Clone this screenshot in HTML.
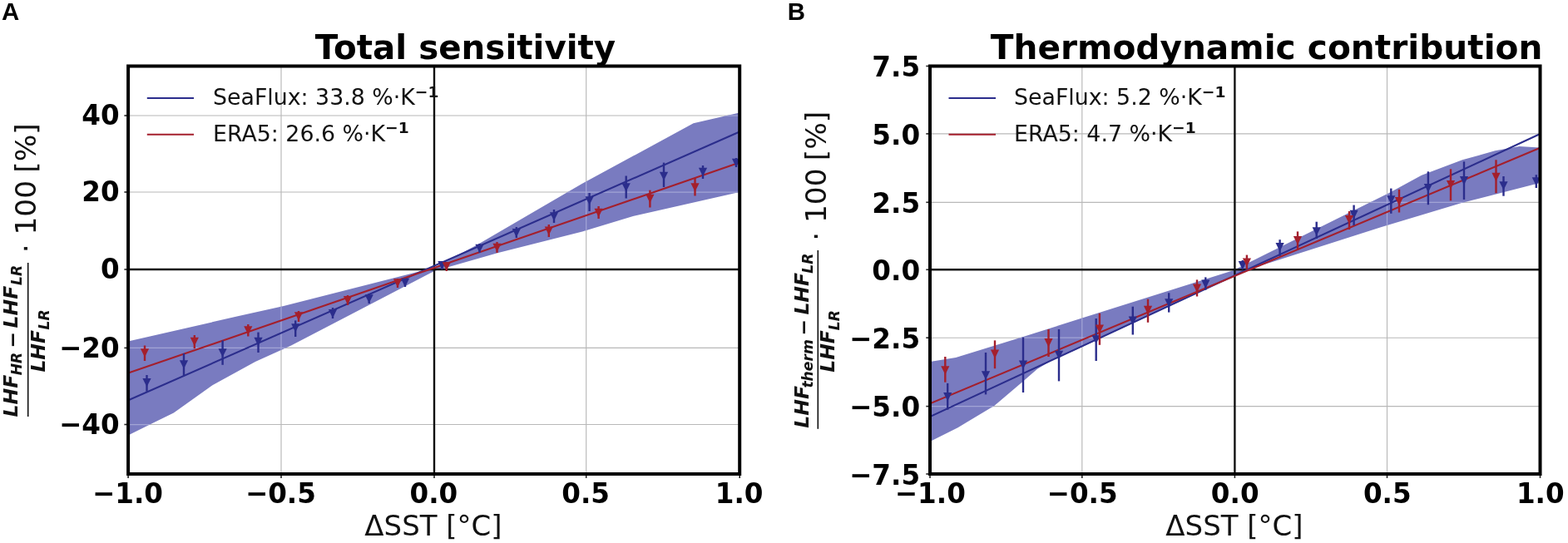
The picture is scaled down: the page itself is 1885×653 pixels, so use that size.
<!DOCTYPE html>
<html lang="en"><head><meta charset="utf-8"><title>LHF sensitivity to SST</title>
<style>
html,body{margin:0;padding:0;background:#fff;}
body{width:1885px;height:653px;overflow:hidden;}
svg{display:block;}
text{font-family:"DejaVu Sans","Liberation Sans",sans-serif;fill:#000;}
.tk{font-size:32.6px;font-weight:bold;}
.ti{font-size:40.4px;font-weight:bold;}
.tib{font-size:40.65px;font-weight:bold;}
.lg{font-size:26.8px;fill:#111;}
.lg .sup{font-size:18.7px;font-weight:bold;}
.xl{font-size:34px;fill:#111;}
.yl{font-size:33px;fill:#111;}
.fr{font-size:23.5px;font-weight:bold;font-style:italic;fill:#111;}
.fr.sb{font-size:17.2px;}
.pl{font-family:"Liberation Sans",sans-serif;font-size:29.4px;font-weight:bold;}
</style></head>
<body>
<svg width="1885" height="653" viewBox="0 0 1885 653">
<rect width="1885" height="653" fill="#fff"/>
<g>
<clipPath id="ca"><rect x="154.1" y="79.5" width="735.1" height="490.5"/></clipPath>
<g clip-path="url(#ca)">
<g stroke="#b8b8b8" stroke-width="1.15"><line x1="338" y1="79.5" x2="338" y2="570"/><line x1="704.7" y1="79.5" x2="704.7" y2="570"/><line x1="154.1" y1="139" x2="889.2" y2="139"/><line x1="154.1" y1="231" x2="889.2" y2="231"/><line x1="154.1" y1="418.4" x2="889.2" y2="418.4"/><line x1="154.1" y1="510.5" x2="889.2" y2="510.5"/></g>
<polygon points="154,410.6 287,380 340,368.2 522,322 573.5,294.4 700,220.8 833.6,148.3 889,135.5 889,231 761,260 700,278.4 598,304.2 522,326 350,415.5 306.9,435 255.4,463.3 208.8,496.4 154,523.4" fill="#797bc0"/>
<clipPath id="fa"><polygon points="154,410.6 287,380 340,368.2 522,322 573.5,294.4 700,220.8 833.6,148.3 889,135.5 889,231 761,260 700,278.4 598,304.2 522,326 350,415.5 306.9,435 255.4,463.3 208.8,496.4 154,523.4"/></clipPath>
<g clip-path="url(#fa)" stroke="#a2a4d5" stroke-width="1.25"><line x1="338" y1="79.5" x2="338" y2="570"/><line x1="704.7" y1="79.5" x2="704.7" y2="570"/><line x1="154.1" y1="139" x2="889.2" y2="139"/><line x1="154.1" y1="231" x2="889.2" y2="231"/><line x1="154.1" y1="418.4" x2="889.2" y2="418.4"/><line x1="154.1" y1="510.5" x2="889.2" y2="510.5"/></g>
<line x1="522" y1="79.5" x2="522" y2="570" stroke="#111" stroke-width="2.4"/>
<line x1="154.1" y1="324" x2="889.2" y2="324" stroke="#111" stroke-width="2.4"/>
<line x1="154.3" y1="481.2" x2="889" y2="158.5" stroke="#2b2d8c" stroke-width="2.1"/>
<line x1="154.3" y1="448.6" x2="889" y2="195.6" stroke="#a41f2c" stroke-width="2.1"/>
</g>
<line x1="176.5" y1="451" x2="176.5" y2="470.7" stroke="#2b2d8c" stroke-width="2.4"/><polygon points="171.4,454.9 181.6,454.9 176.5,465.3" fill="#2b2d8c"/>
<line x1="221" y1="425" x2="221" y2="452" stroke="#2b2d8c" stroke-width="2.4"/><polygon points="215.9,433.2 226.1,433.2 221,443.6" fill="#2b2d8c"/>
<line x1="267.6" y1="409.4" x2="267.6" y2="438.8" stroke="#2b2d8c" stroke-width="2.4"/><polygon points="262.5,419.2 272.7,419.2 267.6,429.6" fill="#2b2d8c"/>
<line x1="310.5" y1="399.6" x2="310.5" y2="424" stroke="#2b2d8c" stroke-width="2.4"/><polygon points="305.4,405.8 315.6,405.8 310.5,416.2" fill="#2b2d8c"/>
<line x1="355.2" y1="385.4" x2="355.2" y2="405" stroke="#2b2d8c" stroke-width="2.4"/><polygon points="350.1,389.2 360.3,389.2 355.2,399.6" fill="#2b2d8c"/>
<line x1="400" y1="370" x2="400" y2="383" stroke="#2b2d8c" stroke-width="2.4"/><polygon points="394.9,372 405.1,372 400,382.4" fill="#2b2d8c"/>
<line x1="443.7" y1="353" x2="443.7" y2="365" stroke="#2b2d8c" stroke-width="2.4"/><polygon points="438.6,354.2 448.8,354.2 443.7,364.6" fill="#2b2d8c"/>
<line x1="487" y1="335" x2="487" y2="345" stroke="#2b2d8c" stroke-width="2.4"/><polygon points="481.9,334.8 492.1,334.8 487,345.2" fill="#2b2d8c"/>
<line x1="531.4" y1="314" x2="531.4" y2="324" stroke="#2b2d8c" stroke-width="2.4"/><polygon points="526.3,314.1 536.5,314.1 531.4,324.5" fill="#2b2d8c"/>
<line x1="576.5" y1="293" x2="576.5" y2="304" stroke="#2b2d8c" stroke-width="2.4"/><polygon points="571.4,293.7 581.6,293.7 576.5,304.1" fill="#2b2d8c"/>
<line x1="620.8" y1="273" x2="620.8" y2="286" stroke="#2b2d8c" stroke-width="2.4"/><polygon points="615.7,274.9 625.9,274.9 620.8,285.3" fill="#2b2d8c"/>
<line x1="666" y1="252" x2="666" y2="268" stroke="#2b2d8c" stroke-width="2.4"/><polygon points="660.9,255.2 671.1,255.2 666,265.6" fill="#2b2d8c"/>
<line x1="708.6" y1="232" x2="708.6" y2="254" stroke="#2b2d8c" stroke-width="2.4"/><polygon points="703.5,236.2 713.7,236.2 708.6,246.6" fill="#2b2d8c"/>
<line x1="752.7" y1="211.5" x2="752.7" y2="238.5" stroke="#2b2d8c" stroke-width="2.4"/><polygon points="747.6,220.2 757.8,220.2 752.7,230.6" fill="#2b2d8c"/>
<line x1="798" y1="195.6" x2="798" y2="225" stroke="#2b2d8c" stroke-width="2.4"/><polygon points="792.9,206.7 803.1,206.7 798,217.1" fill="#2b2d8c"/>
<line x1="845" y1="199" x2="845" y2="215" stroke="#2b2d8c" stroke-width="2.4"/><polygon points="839.9,201.8 850.1,201.8 845,212.2" fill="#2b2d8c"/>
<line x1="885" y1="190" x2="885" y2="201" stroke="#2b2d8c" stroke-width="2.4"/><polygon points="879.9,190.8 890.1,190.8 885,201.2" fill="#2b2d8c"/>
<line x1="174" y1="415.5" x2="174" y2="434" stroke="#a41f2c" stroke-width="2.4"/><polygon points="168.9,419.2 179.1,419.2 174,429.6" fill="#a41f2c"/>
<line x1="233.8" y1="403" x2="233.8" y2="419" stroke="#a41f2c" stroke-width="2.4"/><polygon points="228.7,405.8 238.9,405.8 233.8,416.2" fill="#a41f2c"/>
<line x1="298.3" y1="390" x2="298.3" y2="404.5" stroke="#a41f2c" stroke-width="2.4"/><polygon points="293.2,392.2 303.4,392.2 298.3,402.6" fill="#a41f2c"/>
<line x1="359" y1="374" x2="359" y2="387" stroke="#a41f2c" stroke-width="2.4"/><polygon points="353.9,375.2 364.1,375.2 359,385.6" fill="#a41f2c"/>
<line x1="418" y1="355" x2="418" y2="367" stroke="#a41f2c" stroke-width="2.4"/><polygon points="412.9,356.1 423.1,356.1 418,366.5" fill="#a41f2c"/>
<line x1="478" y1="335" x2="478" y2="346" stroke="#a41f2c" stroke-width="2.4"/><polygon points="472.9,335.2 483.1,335.2 478,345.6" fill="#a41f2c"/>
<line x1="536.8" y1="315" x2="536.8" y2="326" stroke="#a41f2c" stroke-width="2.4"/><polygon points="531.7,315.2 541.9,315.2 536.8,325.6" fill="#a41f2c"/>
<line x1="597.5" y1="291" x2="597.5" y2="304" stroke="#a41f2c" stroke-width="2.4"/><polygon points="592.4,292.7 602.6,292.7 597.5,303.1" fill="#a41f2c"/>
<line x1="659.8" y1="270" x2="659.8" y2="285" stroke="#a41f2c" stroke-width="2.4"/><polygon points="654.7,272.4 664.9,272.4 659.8,282.8" fill="#a41f2c"/>
<line x1="719.6" y1="248" x2="719.6" y2="263" stroke="#a41f2c" stroke-width="2.4"/><polygon points="714.5,250.8 724.7,250.8 719.6,261.2" fill="#a41f2c"/>
<line x1="781.4" y1="228.7" x2="781.4" y2="249.5" stroke="#a41f2c" stroke-width="2.4"/><polygon points="776.3,233.7 786.5,233.7 781.4,244.1" fill="#a41f2c"/>
<line x1="835.5" y1="214" x2="835.5" y2="235.5" stroke="#a41f2c" stroke-width="2.4"/><polygon points="830.4,220.2 840.6,220.2 835.5,230.6" fill="#a41f2c"/>
<line x1="154.1" y1="570" x2="154.1" y2="574.9" stroke="#222" stroke-width="1.6"/>
<line x1="338" y1="570" x2="338" y2="574.9" stroke="#222" stroke-width="1.6"/>
<line x1="522" y1="570" x2="522" y2="574.9" stroke="#222" stroke-width="1.6"/>
<line x1="704.7" y1="570" x2="704.7" y2="574.9" stroke="#222" stroke-width="1.6"/>
<line x1="889.2" y1="570" x2="889.2" y2="574.9" stroke="#222" stroke-width="1.6"/>
<line x1="149.4" y1="139" x2="154.1" y2="139" stroke="#222" stroke-width="1.6"/>
<line x1="149.4" y1="231" x2="154.1" y2="231" stroke="#222" stroke-width="1.6"/>
<line x1="149.4" y1="324" x2="154.1" y2="324" stroke="#222" stroke-width="1.6"/>
<line x1="149.4" y1="418.4" x2="154.1" y2="418.4" stroke="#222" stroke-width="1.6"/>
<line x1="149.4" y1="510.5" x2="154.1" y2="510.5" stroke="#222" stroke-width="1.6"/>
<rect x="154.1" y="79.5" width="735.1" height="490.5" fill="none" stroke="#000" stroke-width="4"/>
<line x1="176.8" y1="118" x2="233" y2="118" stroke="#2b2d8c" stroke-width="2.1"/>
<line x1="176.8" y1="161.8" x2="233" y2="161.8" stroke="#a41f2c" stroke-width="2.1"/>
<text class="lg" transform="translate(256,126.3) scale(1,0.98)">SeaFlux: 33.8 %·K<tspan class="sup" dy="-10">−1</tspan></text>
<text class="lg" transform="translate(256,170) scale(1,0.98)">ERA5: 26.6 %·K<tspan class="sup" dy="-10">−1</tspan></text>
<text class="ti" transform="translate(559.5,70.5) scale(1,1.025)" text-anchor="middle">Total sensitivity</text>
<text class="tk" transform="translate(153.5,604.6) scale(1,1.04)" text-anchor="middle">−1.0</text>
<text class="tk" transform="translate(337.4,604.6) scale(1,1.04)" text-anchor="middle">−0.5</text>
<text class="tk" transform="translate(521.4,604.6) scale(1,1.04)" text-anchor="middle">0.0</text>
<text class="tk" transform="translate(704.1,604.6) scale(1,1.04)" text-anchor="middle">0.5</text>
<text class="tk" transform="translate(888.6,604.6) scale(1,1.04)" text-anchor="middle">1.0</text>
<text class="tk" transform="translate(143.6,150.2) scale(1,1.04)" text-anchor="end">40</text>
<text class="tk" transform="translate(143.6,242.2) scale(1,1.04)" text-anchor="end">20</text>
<text class="tk" transform="translate(143.6,335.2) scale(1,1.04)" text-anchor="end">0</text>
<text class="tk" transform="translate(143.6,429.6) scale(1,1.04)" text-anchor="end">−20</text>
<text class="tk" transform="translate(143.6,521.7) scale(1,1.04)" text-anchor="end">−40</text>
<text class="xl" x="521" y="643.8" text-anchor="middle">ΔSST [°C]</text>
<rect x="32.900000000000006" y="316" width="1.6" height="185" fill="#111"/>
<text class="fr m" transform="translate(21.3,501.4) rotate(-90)">LHF</text>
<text class="fr sb" transform="translate(25.7,451.3) rotate(-90)">HR</text>
<text class="fr m" transform="translate(23.3,418.6) rotate(-90)">−</text>
<text class="fr m" transform="translate(21.3,394.4) rotate(-90)">LHF</text>
<text class="fr sb" transform="translate(25.7,343) rotate(-90)">LR</text>
<text class="fr m" transform="translate(54.1,447.6) rotate(-90)">LHF</text>
<text class="fr sb" transform="translate(58.5,396.5) rotate(-90)">LR</text>
<text class="yl" transform="translate(42.8,304.3) scale(1,1.04) rotate(-90)">· 100 <tspan dx="-1.5">[%]</tspan></text>
<text class="pl" transform="translate(2.0,23.9) scale(1,1.02)">A</text>
</g>
<g>
<clipPath id="cb"><rect x="1118" y="79.5" width="733.5" height="490.5"/></clipPath>
<g clip-path="url(#cb)">
<g stroke="#b8b8b8" stroke-width="1.15"><line x1="1300.8" y1="79.5" x2="1300.8" y2="570"/><line x1="1667.5" y1="79.5" x2="1667.5" y2="570"/><line x1="1118" y1="160.9" x2="1851.5" y2="160.9"/><line x1="1118" y1="243.3" x2="1851.5" y2="243.3"/><line x1="1118" y1="406.2" x2="1851.5" y2="406.2"/><line x1="1118" y1="488.6" x2="1851.5" y2="488.6"/></g>
<polygon points="1118,435 1149,430 1230,405 1300,382.8 1482.4,325.3 1670,231.9 1709,210.7 1758,192.3 1797.3,181.3 1826.7,175.9 1851,177.6 1851,220 1758,243.8 1660,273.2 1501.9,323.8 1484,330.6 1390,375.2 1290,422.2 1271.6,429 1247,443.7 1230,458.4 1195.6,487.8 1151.5,514.2 1118,531" fill="#797bc0"/>
<clipPath id="fb"><polygon points="1118,435 1149,430 1230,405 1300,382.8 1482.4,325.3 1670,231.9 1709,210.7 1758,192.3 1797.3,181.3 1826.7,175.9 1851,177.6 1851,220 1758,243.8 1660,273.2 1501.9,323.8 1484,330.6 1390,375.2 1290,422.2 1271.6,429 1247,443.7 1230,458.4 1195.6,487.8 1151.5,514.2 1118,531"/></clipPath>
<g clip-path="url(#fb)" stroke="#a2a4d5" stroke-width="1.25"><line x1="1300.8" y1="79.5" x2="1300.8" y2="570"/><line x1="1667.5" y1="79.5" x2="1667.5" y2="570"/><line x1="1118" y1="160.9" x2="1851.5" y2="160.9"/><line x1="1118" y1="243.3" x2="1851.5" y2="243.3"/><line x1="1118" y1="406.2" x2="1851.5" y2="406.2"/><line x1="1118" y1="488.6" x2="1851.5" y2="488.6"/></g>
<line x1="1484.4" y1="79.5" x2="1484.4" y2="570" stroke="#111" stroke-width="2.4"/>
<line x1="1118" y1="324.3" x2="1851.5" y2="324.3" stroke="#111" stroke-width="2.4"/>
<line x1="1118" y1="501.1" x2="1851.5" y2="161" stroke="#2b2d8c" stroke-width="2.1"/>
<line x1="1118" y1="485.4" x2="1851.5" y2="177.8" stroke="#a41f2c" stroke-width="2.1"/>
</g>
<line x1="1139.2" y1="460.9" x2="1139.2" y2="492.7" stroke="#2b2d8c" stroke-width="2.4"/><polygon points="1134.1,472 1144.3,472 1139.2,482.4" fill="#2b2d8c"/>
<line x1="1185" y1="424" x2="1185" y2="474.4" stroke="#2b2d8c" stroke-width="2.4"/><polygon points="1179.9,446.2 1190.1,446.2 1185,456.6" fill="#2b2d8c"/>
<line x1="1230" y1="405.7" x2="1230" y2="472" stroke="#2b2d8c" stroke-width="2.4"/><polygon points="1224.9,433.5 1235.1,433.5 1230,443.9" fill="#2b2d8c"/>
<line x1="1273" y1="396" x2="1273" y2="458.4" stroke="#2b2d8c" stroke-width="2.4"/><polygon points="1267.9,421.8 1278.1,421.8 1273,432.2" fill="#2b2d8c"/>
<line x1="1317.7" y1="383" x2="1317.7" y2="434" stroke="#2b2d8c" stroke-width="2.4"/><polygon points="1312.6,403.2 1322.8,403.2 1317.7,413.6" fill="#2b2d8c"/>
<line x1="1361.8" y1="368.7" x2="1361.8" y2="402.5" stroke="#2b2d8c" stroke-width="2.4"/><polygon points="1356.7,380.6 1366.9,380.6 1361.8,391" fill="#2b2d8c"/>
<line x1="1405.2" y1="352.3" x2="1405.2" y2="375.6" stroke="#2b2d8c" stroke-width="2.4"/><polygon points="1400.1,359.2 1410.3,359.2 1405.2,369.6" fill="#2b2d8c"/>
<line x1="1449.3" y1="333.4" x2="1449.3" y2="348.6" stroke="#2b2d8c" stroke-width="2.4"/><polygon points="1444.2,336.5 1454.4,336.5 1449.3,346.9" fill="#2b2d8c"/>
<line x1="1493.8" y1="313" x2="1493.8" y2="324" stroke="#2b2d8c" stroke-width="2.4"/><polygon points="1488.7,314.1 1498.9,314.1 1493.8,324.5" fill="#2b2d8c"/>
<line x1="1538.6" y1="288.2" x2="1538.6" y2="307.8" stroke="#2b2d8c" stroke-width="2.4"/><polygon points="1533.5,292 1543.7,292 1538.6,302.4" fill="#2b2d8c"/>
<line x1="1582.7" y1="266.7" x2="1582.7" y2="287" stroke="#2b2d8c" stroke-width="2.4"/><polygon points="1577.6,273.2 1587.8,273.2 1582.7,283.6" fill="#2b2d8c"/>
<line x1="1627.6" y1="246.6" x2="1627.6" y2="271" stroke="#2b2d8c" stroke-width="2.4"/><polygon points="1622.5,252.8 1632.7,252.8 1627.6,263.2" fill="#2b2d8c"/>
<line x1="1672.3" y1="226.6" x2="1672.3" y2="256.8" stroke="#2b2d8c" stroke-width="2.4"/><polygon points="1667.2,235.2 1677.4,235.2 1672.3,245.6" fill="#2b2d8c"/>
<line x1="1716.9" y1="206.3" x2="1716.9" y2="246.2" stroke="#2b2d8c" stroke-width="2.4"/><polygon points="1711.8,221.1 1722,221.1 1716.9,231.5" fill="#2b2d8c"/>
<line x1="1760" y1="194.3" x2="1760" y2="240" stroke="#2b2d8c" stroke-width="2.4"/><polygon points="1754.9,212 1765.1,212 1760,222.4" fill="#2b2d8c"/>
<line x1="1807.5" y1="212" x2="1807.5" y2="235.7" stroke="#2b2d8c" stroke-width="2.4"/><polygon points="1802.4,218.2 1812.6,218.2 1807.5,228.6" fill="#2b2d8c"/>
<line x1="1846.8" y1="210.2" x2="1846.8" y2="226" stroke="#2b2d8c" stroke-width="2.4"/><polygon points="1841.7,213.2 1851.9,213.2 1846.8,223.6" fill="#2b2d8c"/>
<line x1="1136.3" y1="429" x2="1136.3" y2="459.7" stroke="#a41f2c" stroke-width="2.4"/><polygon points="1131.2,440.2 1141.4,440.2 1136.3,450.6" fill="#a41f2c"/>
<line x1="1196" y1="409.4" x2="1196" y2="443.2" stroke="#a41f2c" stroke-width="2.4"/><polygon points="1190.9,420.5 1201.1,420.5 1196,430.9" fill="#a41f2c"/>
<line x1="1260.5" y1="396" x2="1260.5" y2="429" stroke="#a41f2c" stroke-width="2.4"/><polygon points="1255.4,407.1 1265.6,407.1 1260.5,417.5" fill="#a41f2c"/>
<line x1="1321.9" y1="376.8" x2="1321.9" y2="414.8" stroke="#a41f2c" stroke-width="2.4"/><polygon points="1316.8,390.4 1327,390.4 1321.9,400.8" fill="#a41f2c"/>
<line x1="1380" y1="359.7" x2="1380" y2="387.8" stroke="#a41f2c" stroke-width="2.4"/><polygon points="1374.9,367.8 1385.1,367.8 1380,378.2" fill="#a41f2c"/>
<line x1="1439" y1="336.4" x2="1439" y2="356.5" stroke="#a41f2c" stroke-width="2.4"/><polygon points="1433.9,341.4 1444.1,341.4 1439,351.8" fill="#a41f2c"/>
<line x1="1498.9" y1="306.6" x2="1498.9" y2="323.8" stroke="#a41f2c" stroke-width="2.4"/><polygon points="1493.8,310.4 1504,310.4 1498.9,320.8" fill="#a41f2c"/>
<line x1="1560" y1="278.4" x2="1560" y2="300.5" stroke="#a41f2c" stroke-width="2.4"/><polygon points="1554.9,283.9 1565.1,283.9 1560,294.3" fill="#a41f2c"/>
<line x1="1622" y1="254" x2="1622" y2="276" stroke="#a41f2c" stroke-width="2.4"/><polygon points="1616.9,258.9 1627.1,258.9 1622,269.3" fill="#a41f2c"/>
<line x1="1682" y1="227.8" x2="1682" y2="255.5" stroke="#a41f2c" stroke-width="2.4"/><polygon points="1676.9,237 1687.1,237 1682,247.4" fill="#a41f2c"/>
<line x1="1744" y1="203.3" x2="1744" y2="241.3" stroke="#a41f2c" stroke-width="2.4"/><polygon points="1738.9,216.9 1749.1,216.9 1744,227.3" fill="#a41f2c"/>
<line x1="1798.5" y1="192.3" x2="1798.5" y2="232.3" stroke="#a41f2c" stroke-width="2.4"/><polygon points="1793.4,207.8 1803.6,207.8 1798.5,218.2" fill="#a41f2c"/>
<line x1="1118" y1="570" x2="1118" y2="574.9" stroke="#222" stroke-width="1.6"/>
<line x1="1300.8" y1="570" x2="1300.8" y2="574.9" stroke="#222" stroke-width="1.6"/>
<line x1="1484.4" y1="570" x2="1484.4" y2="574.9" stroke="#222" stroke-width="1.6"/>
<line x1="1667.5" y1="570" x2="1667.5" y2="574.9" stroke="#222" stroke-width="1.6"/>
<line x1="1851.5" y1="570" x2="1851.5" y2="574.9" stroke="#222" stroke-width="1.6"/>
<line x1="1113.3" y1="79.5" x2="1118" y2="79.5" stroke="#222" stroke-width="1.6"/>
<line x1="1113.3" y1="160.9" x2="1118" y2="160.9" stroke="#222" stroke-width="1.6"/>
<line x1="1113.3" y1="243.3" x2="1118" y2="243.3" stroke="#222" stroke-width="1.6"/>
<line x1="1113.3" y1="324.3" x2="1118" y2="324.3" stroke="#222" stroke-width="1.6"/>
<line x1="1113.3" y1="406.2" x2="1118" y2="406.2" stroke="#222" stroke-width="1.6"/>
<line x1="1113.3" y1="488.6" x2="1118" y2="488.6" stroke="#222" stroke-width="1.6"/>
<line x1="1113.3" y1="570" x2="1118" y2="570" stroke="#222" stroke-width="1.6"/>
<rect x="1118" y="79.5" width="733.5" height="490.5" fill="none" stroke="#000" stroke-width="4"/>
<line x1="1140.5" y1="118" x2="1197" y2="118" stroke="#2b2d8c" stroke-width="2.1"/>
<line x1="1140.5" y1="161.8" x2="1197" y2="161.8" stroke="#a41f2c" stroke-width="2.1"/>
<text class="lg" transform="translate(1219,126.3) scale(1,0.98)">SeaFlux: 5.2 %·K<tspan class="sup" dy="-10">−1</tspan></text>
<text class="lg" transform="translate(1219,170) scale(1,0.98)">ERA5: 4.7 %·K<tspan class="sup" dy="-10">−1</tspan></text>
<text class="tib" transform="translate(1522.6,70.5) scale(1,1.025)" text-anchor="middle">Thermodynamic contribution</text>
<text class="tk" transform="translate(1118.3,604.6) scale(1,1.04)" text-anchor="middle">−1.0</text>
<text class="tk" transform="translate(1301.1,604.6) scale(1,1.04)" text-anchor="middle">−0.5</text>
<text class="tk" transform="translate(1484.7,604.6) scale(1,1.04)" text-anchor="middle">0.0</text>
<text class="tk" transform="translate(1667.8,604.6) scale(1,1.04)" text-anchor="middle">0.5</text>
<text class="tk" transform="translate(1851.8,604.6) scale(1,1.04)" text-anchor="middle">1.0</text>
<text class="tk" transform="translate(1106.1,92.2) scale(1,1.04)" text-anchor="end">7.5</text>
<text class="tk" transform="translate(1106.1,173.6) scale(1,1.04)" text-anchor="end">5.0</text>
<text class="tk" transform="translate(1106.1,256) scale(1,1.04)" text-anchor="end">2.5</text>
<text class="tk" transform="translate(1106.1,337) scale(1,1.04)" text-anchor="end">0.0</text>
<text class="tk" transform="translate(1106.1,418.9) scale(1,1.04)" text-anchor="end">−2.5</text>
<text class="tk" transform="translate(1106.1,501.3) scale(1,1.04)" text-anchor="end">−5.0</text>
<text class="tk" transform="translate(1106.1,582.7) scale(1,1.04)" text-anchor="end">−7.5</text>
<text class="xl" x="1484" y="643.8" text-anchor="middle">ΔSST [°C]</text>
<rect x="982.5" y="301" width="1.6" height="214.79999999999995" fill="#111"/>
<text class="fr m" transform="translate(971.8,514.7) rotate(-90)">LHF</text>
<text class="fr sb" transform="translate(977.1,466.6) rotate(-90)">therm</text>
<text class="fr m" transform="translate(973.8,403.6) rotate(-90)">−</text>
<text class="fr m" transform="translate(971.8,378.6) rotate(-90)">LHF</text>
<text class="fr sb" transform="translate(977.1,328.7) rotate(-90)">LR</text>
<text class="fr m" transform="translate(1003.3,447.8) rotate(-90)">LHF</text>
<text class="fr sb" transform="translate(1008.6,397.2) rotate(-90)">LR</text>
<text class="yl" transform="translate(992.8,289.8) scale(1,1.04) rotate(-90)">· 100 <tspan dx="-1.5">[%]</tspan></text>
<text class="pl" transform="translate(946.7,23.9) scale(1,1.02)">B</text>
</g>
</svg>
</body></html>
